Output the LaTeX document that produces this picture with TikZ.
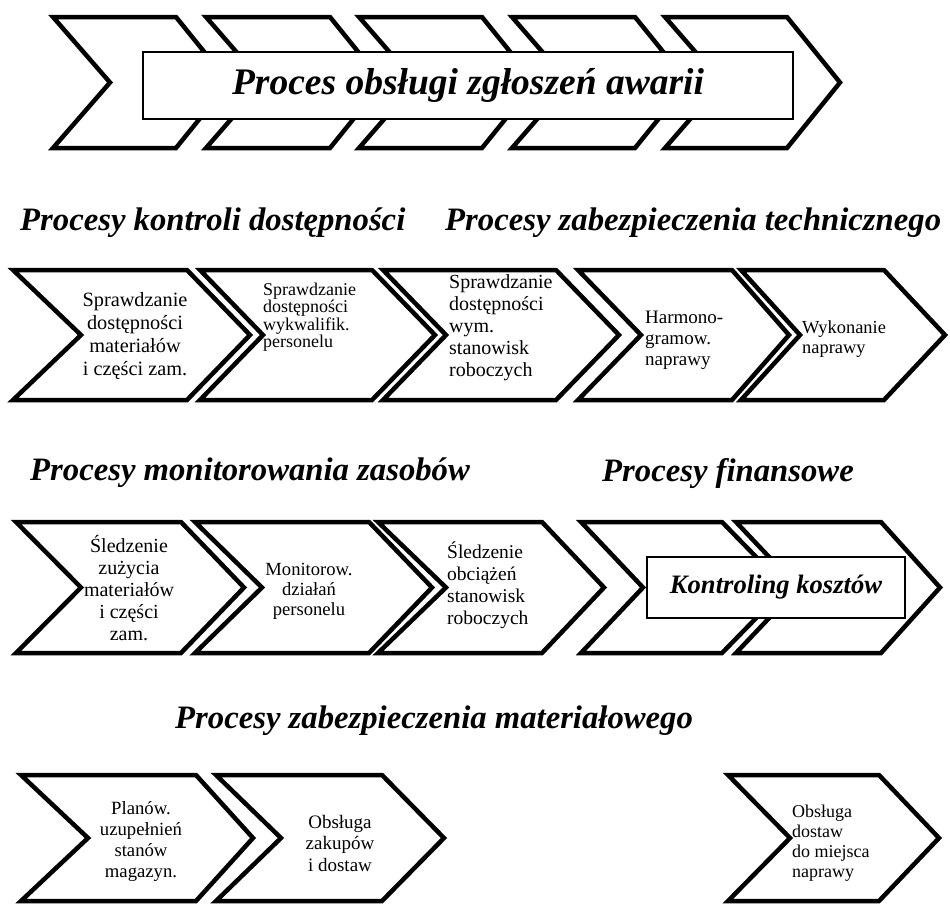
\documentclass[tikz,border=0pt]{standalone}
\usepackage{fontspec}
\setmainfont{Liberation Serif}
\begin{document}
\begin{tikzpicture}[x=1pt,y=-1pt,
  chevline/.style={draw=black,fill=white,line width=4.5pt,line join=miter},
  titlebox/.style={draw=black,fill=white,line width=1.5pt},
  heading/.style={anchor=base west,inner sep=0pt,font=\fontsize{32.7}{36}\selectfont\bfseries\itshape},
  bodytxt/.style 2 args={inner sep=0pt,font=\fontsize{#1}{#2}\selectfont}]
% name, left x, top-right x, notch depth, tip depth, top y, bottom y
\newcommand\chevronshape[7]{%
  \draw[chevline] (#2,#6) -- (#3,#6) -- ({#3+#5},{(#6+#7)/2}) -- (#3,#7)
    -- (#2,#7) -- ({#2+#4},{(#6+#7)/2}) -- cycle;
  \coordinate (#1) at ({(#2+#3)/2},{(#6+#7)/2});}
\useasboundingbox (0,0) rectangle (950,905);
\fill[white] (0,0) rectangle (950,905);

% ---- main process band ----
\chevronshape{t1}{53}{176}{57}{53}{17}{148}
\chevronshape{t2}{206}{330}{57}{53}{17}{148}
\chevronshape{t3}{359}{482}{57}{53}{17}{148}
\chevronshape{t4}{512}{635}{57}{53}{17}{148}
\chevronshape{t5}{665}{787}{57}{53}{17}{148}
\node[titlebox,minimum width=650pt,minimum height=67pt,inner sep=0pt,
      font=\fontsize{37.5}{40}\selectfont\bfseries\itshape] (title) at (468,85.5)
      {Proces obsługi zgłoszeń awarii};

% ---- headings ----
\node[heading] (h1) at (20,230) {Procesy kontroli dostępności};
\node[heading] (h2) at (445,230) {Procesy zabezpieczenia technicznego};
\node[heading] (h3) at (30,480) {Procesy monitorowania zasobów};
\node[heading] (h4) at (602,481) {Procesy finansowe};
\node[heading] (h5) at (175,728) {Procesy zabezpieczenia materiałowego};

% ---- technical readiness row ----
\chevronshape{a1}{13}{187}{68}{63}{270}{400}
\chevronshape{a2}{200}{372}{63}{63}{270}{400}
\chevronshape{a3}{383}{556}{63}{63}{270}{400}
\chevronshape{a4}{578}{732}{63}{57}{270}{400}
\chevronshape{a5}{741}{884}{59}{61}{270}{400}
\node[bodytxt={20.3}{23},align=center] (ta1) at (135,336)
  {Sprawdzanie\\dostępności\\materiałów\\i części zam.};
\node[bodytxt={18}{17.5},align=left,anchor=west] (ta2) at (263,317)
  {Sprawdzanie\\dostępności\\wykwalifik.\\personelu};
\node[bodytxt={20}{22},align=left,anchor=west] (ta3) at (449,328)
  {Sprawdzanie\\dostępności\\wym.\\stanowisk\\roboczych};
\node[bodytxt={19}{21},align=left,anchor=west] (ta4) at (645,340)
  {Harmono-\\gramow.\\naprawy};
\node[bodytxt={18.4}{20},align=left,anchor=west] (ta5) at (802,339)
  {Wykonanie\\naprawy};

% ---- resource monitoring row ----
\chevronshape{b1}{16}{181}{65}{63}{522}{653}
\chevronshape{b2}{195}{369}{67}{63}{522}{653}
\chevronshape{b3}{378}{542}{68}{62}{522}{653}
\chevronshape{b4}{581}{722}{62}{64}{522}{653}
\chevronshape{b5}{736}{881}{62}{59}{522}{653}
\node[bodytxt={20}{22},align=center] (tb1) at (129,588)
  {Śledzenie\\zużycia\\materiałów\\i części\\zam.};
\node[bodytxt={18.6}{20},align=center] (tb2) at (309,591)
  {Monitorow.\\działań\\personelu};
\node[bodytxt={19.5}{22},align=left,anchor=west] (tb3) at (447,585)
  {Śledzenie\\obciążeń\\stanowisk\\roboczych};
\node[titlebox,minimum width=258pt,minimum height=61pt,inner sep=0pt,
      font=\fontsize{26.6}{30}\selectfont\bfseries\itshape] (cost) at (776,587.5)
      {Kontroling kosztów};

% ---- material supply row ----
\chevronshape{c1}{21}{196}{67}{57}{775}{901}
\chevronshape{c2}{216}{382}{65}{62}{775}{901}
\chevronshape{c3}{728}{879}{62}{60}{775}{901}
\node[bodytxt={18.7}{21},align=center] (tc1) at (141,842)
  {Planów.\\uzupełnień\\stanów\\magazyn.};
\node[bodytxt={19}{21.5},align=center] (tc2) at (340,843)
  {Obsługa\\zakupów\\i dostaw};
\node[bodytxt={18}{20},align=left,anchor=west] (tc3) at (792,843)
  {Obsługa\\dostaw\\do miejsca\\naprawy};
\end{tikzpicture}
\end{document}
